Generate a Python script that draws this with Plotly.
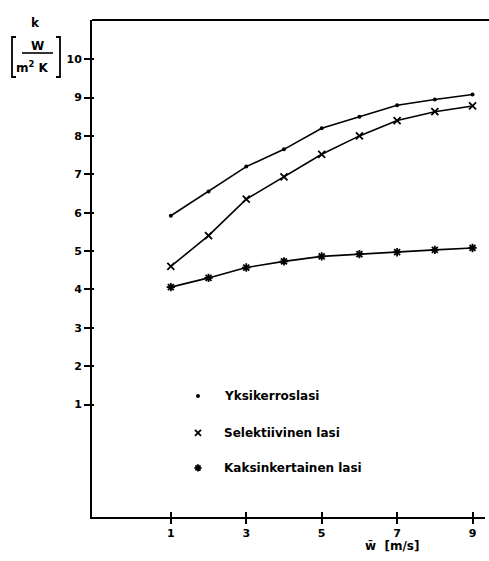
import plotly.graph_objects as go

w = [1, 2, 3, 4, 5, 6, 7, 8, 9]
yksikerroslasi = [5.92, 6.55, 7.2, 7.65, 8.2, 8.5, 8.8, 8.95, 9.08]
selektiivinen = [4.6, 5.4, 6.35, 6.93, 7.52, 8.0, 8.4, 8.63, 8.78]
kaksinkertainen = [4.06, 4.3, 4.57, 4.73, 4.86, 4.92, 4.97, 5.03, 5.08]
series_names = ["Yksikerroslasi", "Selektiivinen lasi", "Kaksinkertainen lasi"]
x_ticks = [1, 3, 5, 7, 9]
y_ticks = [1, 2, 3, 4, 5, 6, 7, 8, 9, 10]

W, H = 489, 561
L, R, T, B = 92, 485, 20, 517
FONT = "DejaVu Sans"

def px(x):
    return (x - L) / (R - L)

def py(y):
    return (B - y) / (B - T)

fig = go.Figure()
line = dict(color="black", width=1.6)
m_dot = dict(symbol="circle", size=4, color="black")
m_x = dict(symbol="x-thin-open", size=7, color="black", line=dict(color="black", width=1.8))
m_star = dict(symbol="asterisk-open", size=7, color="black", line=dict(color="black", width=1.8))
fig.add_trace(go.Scatter(x=w, y=yksikerroslasi, mode="lines+markers", line=line, marker=m_dot, showlegend=False))
fig.add_trace(go.Scatter(x=w, y=selektiivinen, mode="lines+markers", line=line, marker=m_x, showlegend=False))
fig.add_trace(go.Scatter(x=w, y=kaksinkertainen, mode="lines+markers", line=line, marker=m_star, showlegend=False))

# legend built in data coordinates
leg_x = 1.72
leg_text_x = 2.36
leg_y = [1.22, 0.26, -0.65]
for mk, yy in zip([m_dot, dict(m_x, size=6), dict(m_star, size=6)], leg_y):
    fig.add_trace(go.Scatter(x=[leg_x], y=[yy], mode="markers", marker=mk, showlegend=False))
for name, yy in zip(series_names, leg_y):
    fig.add_annotation(x=leg_text_x, y=yy, text=name, showarrow=False, xanchor="left", yanchor="middle",
                       font=dict(family=FONT, size=12, color="black", weight="bold"))

ann_font = dict(family=FONT, size=12, color="black", weight="bold")
# y-axis label: k [W / m2 K]
fig.add_annotation(xref="paper", yref="paper", x=px(35), y=py(23), text="k", showarrow=False,
                   xanchor="center", yanchor="middle", font=ann_font)
fig.add_annotation(xref="paper", yref="paper", x=px(37), y=py(46), text="W", showarrow=False,
                   xanchor="center", yanchor="middle", font=ann_font)
fig.add_annotation(xref="paper", yref="paper", x=px(33), y=py(67), text="m<sup>2</sup> K", showarrow=False,
                   xanchor="center", yanchor="middle", font=ann_font)
# x-axis title
fig.add_annotation(xref="paper", yref="paper", x=px(392), y=py(546), text="w̄  [m/s]", showarrow=False,
                   xanchor="center", yanchor="middle", font=ann_font)

shapes = [
    dict(type="line", xref="paper", yref="paper", x0=0, x1=px(489), y0=1, y1=1, line=dict(color="black", width=2)),
    dict(type="line", xref="paper", yref="paper", x0=px(22), x1=px(53), y0=py(53), y1=py(53), line=dict(color="black", width=1.6)),
    dict(type="path", xref="paper", yref="paper",
         path=f"M {px(16)} {py(37)} L {px(12)} {py(37)} L {px(12)} {py(77)} L {px(16)} {py(77)}",
         line=dict(color="black", width=1.8)),
    dict(type="path", xref="paper", yref="paper",
         path=f"M {px(56)} {py(37)} L {px(60)} {py(37)} L {px(60)} {py(77)} L {px(56)} {py(77)}",
         line=dict(color="black", width=1.8)),
]

fig.update_layout(
    width=W, height=H,
    margin=dict(l=L, r=W - R, t=T, b=H - B, pad=0),
    paper_bgcolor="white", plot_bgcolor="white",
    shapes=shapes,
    showlegend=False,
    font=dict(family=FONT, size=11, color="black"),
)
fig.update_xaxes(range=[-1.09, 9.33], tickvals=x_ticks, ticktext=[str(v) for v in x_ticks],
                 showgrid=False, zeroline=False, showline=True, linecolor="black", linewidth=2,
                 ticks="outside", ticklen=5, tickwidth=1.6, tickcolor="black",
                 minor=dict(tickvals=x_ticks, ticks="inside", ticklen=5, tickwidth=1.6, tickcolor="black", showgrid=False),
                 tickfont=dict(family=FONT, size=11, color="black", weight="bold"))
fig.update_yaxes(range=[-1.93, 11.02], tickvals=y_ticks, ticktext=[str(v) for v in y_ticks],
                 showgrid=False, zeroline=False, showline=True, linecolor="black", linewidth=2,
                 ticks="outside", ticklen=6, tickwidth=1.6, tickcolor="black",
                 minor=dict(tickvals=y_ticks, ticks="inside", ticklen=2, tickwidth=1.6, tickcolor="black", showgrid=False),
                 tickfont=dict(family=FONT, size=11, color="black", weight="bold"))

fig.write_html("out.html")
